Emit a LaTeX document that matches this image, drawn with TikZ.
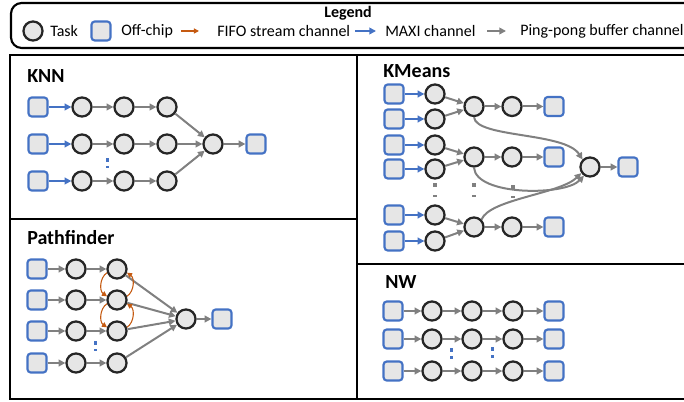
\documentclass[tikz,border=0pt]{standalone}
\usepackage{fontspec}
\setmainfont{Carlito}
\usetikzlibrary{arrows.meta}
\definecolor{mblue}{HTML}{4472C4}
\definecolor{mgray}{HTML}{808080}
\definecolor{morange}{HTML}{C55A11}
\definecolor{nfill}{HTML}{E6E6E6}
\definecolor{nline}{HTML}{262626}
\begin{document}
\begin{tikzpicture}[x=0.75pt,y=-0.75pt,
  task/.style={circle,draw=nline,fill=nfill,line width=1.7pt,minimum size=14.3pt,inner sep=0pt},
  mem/.style={rectangle,rounded corners=2.5pt,draw=mblue,fill=nfill,line width=1.6pt,minimum size=14.3pt,inner sep=0pt},
  pp/.style={draw=mgray,line width=1.5pt,-{Triangle[length=5pt,width=5pt]}},
  maxi/.style={draw=mblue,line width=1.5pt,-{Triangle[length=5pt,width=5pt]}},
  fifo/.style={draw=morange,line width=0.8pt,-{Triangle[length=3.8pt,width=3.8pt]}},
  panel/.style={draw=black,line width=1.6pt},
  title/.style={font=\fontsize{15}{18}\selectfont\bfseries,anchor=west,inner sep=0pt},
  lbl/.style={font=\fontsize{12}{14}\selectfont,anchor=west,inner sep=0pt},
]
\useasboundingbox (0,0) rectangle (684,402);
\clip (0,0) rectangle (684,402);

% legend
\draw[panel,rounded corners=8pt] (11,3) rectangle (720,48);
\node[font=\fontsize{12}{14}\selectfont\bfseries,inner sep=0pt] (lgd) at (348,13) {Legend};
\node[task] (lt) at (33,31) {};
\node[lbl] (ltt) at (50,31) {Task};
\node[mem] (lm) at (101,31) {};
\node[lbl] (lmt) at (121,31) {Off-chip};
\coordinate (lfa) at (181,31); \coordinate (lfb) at (199,31);
\draw[fifo] (lfa) -- (lfb);
\node[lbl] (lft) at (217,31) {FIFO stream channel};
\coordinate (lba) at (355,31); \coordinate (lbb) at (376,31);
\draw[maxi] (lba) -- (lbb);
\node[lbl] (lbt) at (385,31) {MAXI channel};
\coordinate (lga) at (487,31); \coordinate (lgb) at (506,31);
\draw[pp] (lga) -- (lgb);
\node[lbl] (lgt) at (520,31) {Ping-pong buffer channel};

% panels
\draw[panel] (10,55) rectangle (357,219);
\draw[panel] (10,219) rectangle (357,399);
\draw[panel] (357,55) rectangle (720,264);
\draw[panel] (357,264) rectangle (720,399);

% KNN
\node[title] (tknn) at (27,76) {KNN};
\foreach \r/\y in {1/107,2/144,3/181} {
  \node[mem] (ks\r) at (38,\y) {};
  \node[task] (ka\r) at (82,\y) {};
  \node[task] (kb\r) at (124,\y) {};
  \node[task] (kc\r) at (167,\y) {};
  \draw[maxi] (ks\r) -- (ka\r);
  \draw[pp] (ka\r) -- (kb\r);
  \draw[pp] (kb\r) -- (kc\r);
}
\node[task] (km) at (213,144) {};
\node[mem] (ko) at (256,144) {};
\foreach \r in {1,2,3} \draw[pp] (kc\r) -- (km);
\draw[pp] (km) -- (ko);
\fill[mblue] (105.5,158.5) rectangle +(3.5,3.5);
\fill[mblue] (105.5,166) rectangle +(3.5,2.5);

% KMeans
\node[title] (tkm) at (383,71) {KMeans};
\foreach \r/\y in {1/94,2/119,3/145,4/169,5/215,6/241} {
  \node[mem] (ms\r) at (394,\y) {};
  \node[task] (ma\r) at (435,\y) {};
  \draw[maxi] (ms\r) -- (ma\r);
}
\foreach \g/\y in {1/106.5,2/157,3/227} {
  \node[task] (mg\g) at (474,\y) {};
  \node[task] (mn\g) at (512,\y) {};
  \node[mem] (mo\g) at (554,\y) {};
  \draw[pp] (mg\g) -- (mn\g);
  \draw[pp] (mn\g) -- (mo\g);
}
\draw[pp] (ma1) -- (mg1); \draw[pp] (ma2) -- (mg1);
\draw[pp] (ma3) -- (mg2); \draw[pp] (ma4) -- (mg2);
\draw[pp] (ma5) -- (mg3); \draw[pp] (ma6) -- (mg3);
\node[task] (mf) at (590,167) {};
\node[mem] (mfo) at (628,167) {};
\draw[pp] (mf) -- (mfo);
\draw[pp] (mg1.south) .. controls (476,138) and (565,132) .. (mf.north west);
\draw[pp] (mg2.south) .. controls (476,196) and (565,196) .. (mf.235);
\draw[pp] (mg3.north east) .. controls (490,199) and (560,194) .. (mf.215);
\foreach \x in {435,474} {
  \fill[mgray] (\x-2,183.5) rectangle +(4,4);
  \fill[mgray] (\x-2,195) rectangle +(4,2.5);
}
\fill[mgray] (511,185.5) rectangle +(4,4);
\fill[mgray] (511,196) rectangle +(4,2.5);

% Pathfinder
\node[title] (tpf) at (27,238) {Pathfinder};
\foreach \r/\y in {1/269,2/300,3/331,4/363} {
  \node[mem] (ps\r) at (37,\y) {};
  \node[task] (pa\r) at (76,\y) {};
  \node[task] (pb\r) at (117,\y) {};
  \draw[pp] (ps\r) -- (pa\r);
  \draw[pp] (pa\r) -- (pb\r);
}
\node[task] (pm) at (186,319) {};
\node[mem] (po) at (222,319) {};
\foreach \r in {1,2,3,4} \draw[pp] (pb\r) -- (pm);
\draw[pp] (pm) -- (po);
\draw[fifo] (pb1.200) to[bend right=55] (pb2.160);
\draw[fifo] (pb2.200) to[bend right=55] (pb3.160);
\draw[fifo] (pb2.20) to[bend right=55] (pb1.340);
\draw[fifo] (pb3.20) to[bend right=55] (pb2.340);
\fill[mblue] (93.5,341) rectangle +(3.5,3.5);
\fill[mblue] (93.5,348.5) rectangle +(3.5,2.5);

% NW
\node[title] (tnw) at (385,282) {NW};
\foreach \r/\y in {1/311,2/339,3/371} {
  \node[mem] (ns\r) at (393,\y) {};
  \node[task] (na\r) at (432,\y) {};
  \node[task] (nb\r) at (472,\y) {};
  \node[task] (nc\r) at (513,\y) {};
  \node[mem] (no\r) at (554,\y) {};
  \draw[pp] (ns\r) -- (na\r);
  \draw[pp] (na\r) -- (nb\r);
  \draw[pp] (nb\r) -- (nc\r);
  \draw[pp] (nc\r) -- (no\r);
}
\fill[mblue] (449.5,348) rectangle +(3.5,3.5);
\fill[mblue] (449.5,356) rectangle +(3.5,2.5);
\fill[mblue] (490.5,347) rectangle +(3.5,3.5);
\fill[mblue] (490.5,355) rectangle +(3.5,2.5);
\end{tikzpicture}
\end{document}
